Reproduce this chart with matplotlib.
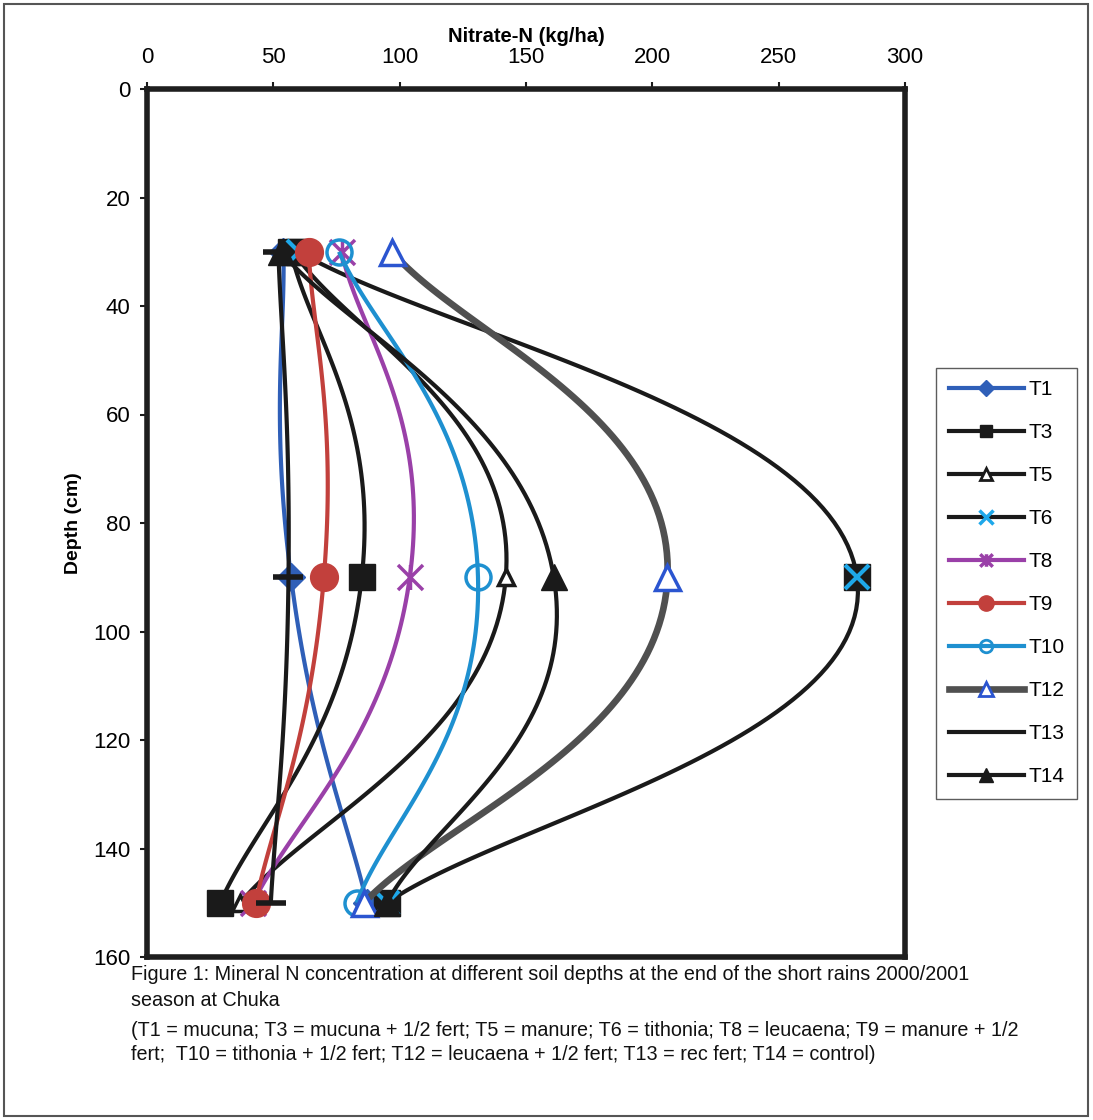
import numpy as np
import matplotlib
matplotlib.use("Agg")
from matplotlib import pyplot as plt
from matplotlib.lines import Line2D
from matplotlib.path import Path
from matplotlib.patches import Rectangle

plt.rcParams['font.family'] = ['Liberation Sans', 'DejaVu Sans']

depths = [30, 90, 150]
labels = ["T1", "T3", "T5", "T6", "T8", "T9", "T10", "T12", "T13", "T14"]
t1 = [54, 57, 87]
t3 = [57, 85, 29]
t5 = [58, 142, 37]
t6 = [60, 281, 95]
t8 = [77, 104, 42]
t9 = [64, 70, 43]
t10 = [76, 131, 83]
t12 = [97, 206, 86]
t13 = [52, 56, 49]
t14 = [53, 161, 95]
series = [t1, t3, t5, t6, t8, t9, t10, t12, t13, t14]

xticks = [0, 50, 100, 150, 200, 250, 300]
yticks = [0, 20, 40, 60, 80, 100, 120, 140, 160]

caption = [
    "Figure 1: Mineral N concentration at different soil depths at the end of the short rains 2000/2001",
    "season at Chuka",
    "(T1 = mucuna; T3 = mucuna + 1/2 fert; T5 = manure; T6 = tithonia; T8 = leucaena; T9 = manure + 1/2",
    "fert;  T10 = tithonia + 1/2 fert; T12 = leucaena + 1/2 fert; T13 = rec fert; T14 = control)",
]

# excel style "star": an x with a vertical bar
star = Path([(-1, -1), (1, 1), (-1, 1), (1, -1), (0, -1), (0, 1)],
            [Path.MOVETO, Path.LINETO, Path.MOVETO, Path.LINETO, Path.MOVETO, Path.LINETO])

BLUE = "#2f5fb8"
CYAN = "#1e90d0"
XBLUE = "#1ea8ea"
PURPLE = "#9a40a8"
RED = "#c2403c"
GRAY = "#505050"
BLK = "#1a1a1a"

styles = [
    dict(color=BLUE, lw=3, marker="D", ms=14, mfc=BLUE, mec=BLUE),
    dict(color=BLK, lw=3, marker="s", ms=19, mfc=BLK, mec=BLK),
    dict(color=BLK, lw=3, marker="^", ms=12, mfc="white", mec=BLK, mew=2.5),
    dict(color=BLK, lw=3, marker="s", ms=19, mfc=BLK, mec=BLK),
    dict(color=PURPLE, lw=3, marker=star, ms=18, mfc="none", mec=PURPLE, mew=2.5),
    dict(color=RED, lw=3, marker="o", ms=20, mfc=RED, mec=RED),
    dict(color=CYAN, lw=3, marker="o", ms=18, mfc="none", mec=CYAN, mew=2.5),
    dict(color=GRAY, lw=4.8, marker="^", ms=18, mfc="white", mec="#2b55d0", mew=2.5),
    dict(color=BLK, lw=3, marker="_", ms=22, mfc=BLK, mec=BLK, mew=4),
    dict(color=BLK, lw=3, marker="^", ms=19, mfc=BLK, mec=BLK),
]

legend_styles = [
    dict(color=BLUE, lw=3, marker="D", ms=8, mfc=BLUE, mec=BLUE),
    dict(color=BLK, lw=3, marker="s", ms=9, mfc=BLK, mec=BLK),
    dict(color=BLK, lw=3, marker="^", ms=8, mfc="white", mec=BLK, mew=2),
    dict(color=BLK, lw=3, marker="x", ms=10, mec=XBLUE, mew=2.5),
    dict(color=PURPLE, lw=3, marker=star, ms=9, mfc="none", mec=PURPLE, mew=2.5),
    dict(color=RED, lw=3, marker="o", ms=11, mfc=RED, mec=RED),
    dict(color=CYAN, lw=3, marker="o", ms=9, mfc="none", mec=CYAN, mew=2),
    dict(color=GRAY, lw=4.8, marker="^", ms=10, mfc="white", mec="#2b55d0", mew=2),
    dict(color=BLK, lw=3),
    dict(color=BLK, lw=3, marker="^", ms=10, mfc=BLK, mec=BLK),
]


def smooth(xs, ys, k=0.25, n=60):
    # bezier through the points, roughly what excel's "smoothed line" does
    pts = np.column_stack([xs, ys]).astype(float)
    m = len(pts)
    out = []
    for i in range(m - 1):
        p0 = pts[max(i - 1, 0)]
        p1 = pts[i]
        p2 = pts[i + 1]
        p3 = pts[min(i + 2, m - 1)]
        c1 = p1 + (p2 - p0) * k
        c2 = p2 - (p3 - p1) * k
        t = np.linspace(0, 1, n)[:, None]
        seg = ((1 - t) ** 3) * p1 + 3 * ((1 - t) ** 2) * t * c1 + 3 * (1 - t) * t ** 2 * c2 + t ** 3 * p2
        out.append(seg)
    out = np.vstack(out)
    return out[:, 0], out[:, 1]


fig = plt.figure(figsize=(10.93, 11.2), dpi=100)
ax = fig.add_axes([147 / 1093, 1 - 957 / 1120, 758 / 1093, 868 / 1120])

for i, (vals, st) in enumerate(zip(series, styles)):
    sx, sy = smooth(vals, depths)
    ax.plot(sx, sy, color=st["color"], lw=st["lw"], solid_capstyle="butt", zorder=2 + i, clip_on=False)
    ax.plot(vals, depths, ls="none", marker=st["marker"], ms=st["ms"], mfc=st["mfc"],
            mec=st["mec"], mew=st.get("mew", 1), zorder=2 + i, clip_on=False)
    if labels[i] == "T6":
        ax.plot(vals, depths, ls="none", marker="x", ms=17, mec=XBLUE, mew=3, zorder=2 + i, clip_on=False)

ax.set_xlim(0, 300)
ax.set_ylim(160, 0)
ax.set_xticks(xticks)
ax.set_yticks(yticks)
ax.xaxis.tick_top()
ax.xaxis.set_label_position("top")
ax.tick_params(axis="both", labelsize=16, length=5, width=1.5, color=BLK)
ax.tick_params(axis="x", pad=10)
ax.tick_params(axis="y", pad=7)
ax.set_xlabel("Nitrate-N (kg/ha)", fontsize=14.5, fontweight="bold", labelpad=4)
ax.set_ylabel("Depth (cm)", fontsize=14, fontweight="bold", labelpad=8)
for sp in ax.spines.values():
    sp.set_linewidth(4)
    sp.set_color("#1e1e1e")
    sp.set_zorder(30)

handles = [Line2D([], [], **st) for st in legend_styles]
leg = fig.legend(handles, labels, loc="upper left", bbox_to_anchor=(936 / 1093, 1 - 368 / 1120),
                 fontsize=15, frameon=True, fancybox=False, edgecolor="#333333",
                 handlelength=3.6, handletextpad=0.25, labelspacing=1.15, borderpad=0.6,
                 borderaxespad=0)
leg.get_frame().set_linewidth(1)

ys = [974, 1001, 1031, 1055]
for line, yp in zip(caption, ys):
    fig.text(131 / 1093, 1 - yp / 1120, line, fontsize=14.2, va="center", ha="left", color="#111111")

fig.patches.append(Rectangle((4 / 1093, 4 / 1120), 1084 / 1093, 1112 / 1120, transform=fig.transFigure,
                             fill=False, edgecolor="#555555", lw=1.5))

fig.savefig("out.png", dpi=100)
